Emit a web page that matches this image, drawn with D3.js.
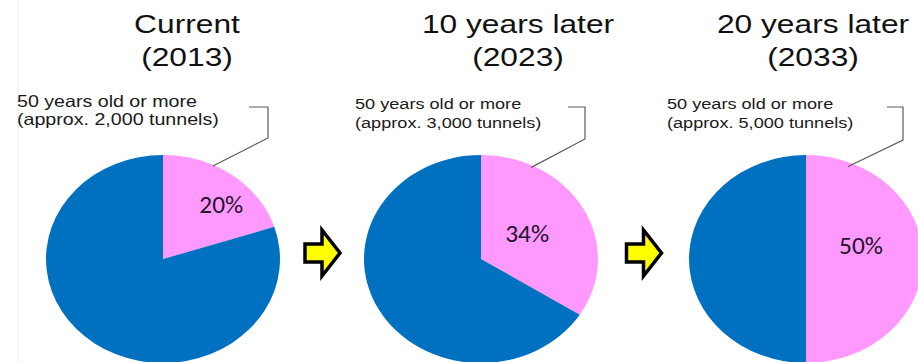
<!DOCTYPE html>
<html>
<head>
<meta charset="utf-8">
<script src="https://cdn.jsdelivr.net/npm/d3@7/dist/d3.min.js"></script>
<style>
  html, body { margin: 0; padding: 0; background: #ffffff; }
  svg { display: block; }
</style>
</head>
<body>
<svg id="chart" width="918" height="362"></svg>
<script>
// ---- data ----
const periodTitles = ["Current", "10 years later", "20 years later"];
const periodYears = ["(2013)", "(2023)", "(2033)"];
const agedShare = [20, 34, 50];            // % of tunnels 50 years old or more
const agedCounts = ["2,000", "3,000", "5,000"];
const categoryName = "50 years old or more";

// ---- layout ----
const W = 918, H = 362;
const pieCY = 259, pieR = 104, pieSX = 1.125;   // pies are drawn slightly wide
const panels = [
  { cx: 163, titleX: 187, noteX: 17,  noteSize: 16.5, noteY: [107, 125], noteSX: 1.19,
    bracket: { x0: 249, x1: 268, y0: 107, y1: 138 }, leaderDeg: 25.5, leaderR: 0.99,
    labelDeg: 43.7, labelR: 75 },
  { cx: 481, titleX: 518, noteX: 355, noteSize: 15, noteY: [109, 128], noteSX: 1.21,
    bracket: { x0: 568, x1: 585, y0: 107, y1: 139 }, leaderDeg: 26, leaderR: 0.98,
    labelDeg: 58.6, labelR: 48 },
  { cx: 806, titleX: 813, noteX: 667, noteSize: 15, noteY: [109, 128], noteSX: 1.21,
    bracket: { x0: 887, x1: 903, y0: 107, y1: 140 }, leaderDeg: 22, leaderR: 0.96,
    labelDeg: 75, labelR: 50.6 }
];
const colorScale = d3.scaleOrdinal()
  .domain(["aged", "other"])
  .range(["#FF99FF", "#0070C0"]);

const svg = d3.select("#chart");
svg.append("rect").attr("width", W).attr("height", H).attr("fill", "#ffffff");

// faint frame line on the left
svg.append("line")
  .attr("x1", 18).attr("x2", 18).attr("y1", 0).attr("y2", H)
  .attr("stroke", "#ececec").attr("stroke-width", 1);

const pie = d3.pie().sort(null).value(d => d.value);
const arc = d3.arc().innerRadius(0).outerRadius(pieR);

function polar(deg, r) {
  const a = deg * Math.PI / 180;
  return [Math.sin(a) * r * pieSX, -Math.cos(a) * r];
}

panels.forEach((p, i) => {
  const share = agedShare[i];
  const slices = pie([
    { key: "aged", value: share },
    { key: "other", value: 100 - share }
  ]);

  // title, two lines
  const title = svg.append("g").attr("font-family", "'Liberation Sans', Arial, sans-serif")
    .attr("font-size", 26).attr("fill", "#111111");
  [[periodTitles[i], 33], [periodYears[i], 66]].forEach(([t, y]) => {
    title.append("text")
      .attr("transform", `translate(${p.titleX},${y}) scale(1.22,1)`)
      .attr("text-anchor", "middle")
      .text(t);
  });

  // pie
  const g = svg.append("g")
    .attr("transform", `translate(${p.cx},${pieCY}) scale(${pieSX},1)`);
  g.selectAll("path").data(slices).join("path")
    .attr("d", arc)
    .attr("fill", d => colorScale(d.data.key));

  // percentage label
  const [lx, ly] = polar(p.labelDeg, p.labelR);
  svg.append("text")
    .attr("transform", `translate(${p.cx + lx},${pieCY + ly + 8.5}) scale(1.08,1)`)
    .attr("text-anchor", "middle")
    .attr("font-family", "Carlito, Calibri, Lato, sans-serif")
    .attr("font-size", 23.5)
    .attr("fill", "#22142c")
    .text(d3.format("d")(share) + "%");

  // note text
  const note = svg.append("g").attr("font-family", "'Liberation Sans', Arial, sans-serif")
    .attr("font-size", p.noteSize).attr("fill", "#1a1a1a");
  [categoryName, `(approx. ${agedCounts[i]} tunnels)`].forEach((t, k) => {
    note.append("text")
      .attr("transform", `translate(${p.noteX},${p.noteY[k]}) scale(${p.noteSX},1)`)
      .text(t);
  });

  // bracket leader to the aged slice
  const [ex, ey] = polar(p.leaderDeg, pieR * p.leaderR);
  const b = p.bracket;
  svg.append("path")
    .attr("d", d3.line()([[b.x0, b.y0], [b.x1, b.y0], [b.x1, b.y1], [p.cx + ex, pieCY + ey]]))
    .attr("fill", "none")
    .attr("stroke", "#5a5a5a")
    .attr("stroke-width", 1.2);
});

// yellow arrows between pies
const arrowPath = "M-18,-9 L-1,-9 L-1,-23 L17,0 L-1,23 L-1,9 L-18,9 Z";
for (let i = 0; i < panels.length - 1; i++) {
  const leftEdge = panels[i].cx + pieR * pieSX;
  const rightEdge = panels[i + 1].cx - pieR * pieSX;
  const ax = (leftEdge + rightEdge) / 2 + 1;
  svg.append("path")
    .attr("transform", `translate(${ax},${pieCY - 6})`)
    .attr("d", arrowPath)
    .attr("fill", "#FFFF00")
    .attr("stroke", "#000000")
    .attr("stroke-width", 3.5)
    .attr("stroke-linejoin", "miter")
    .attr("stroke-miterlimit", 4);
}
</script>
</body>
</html>
